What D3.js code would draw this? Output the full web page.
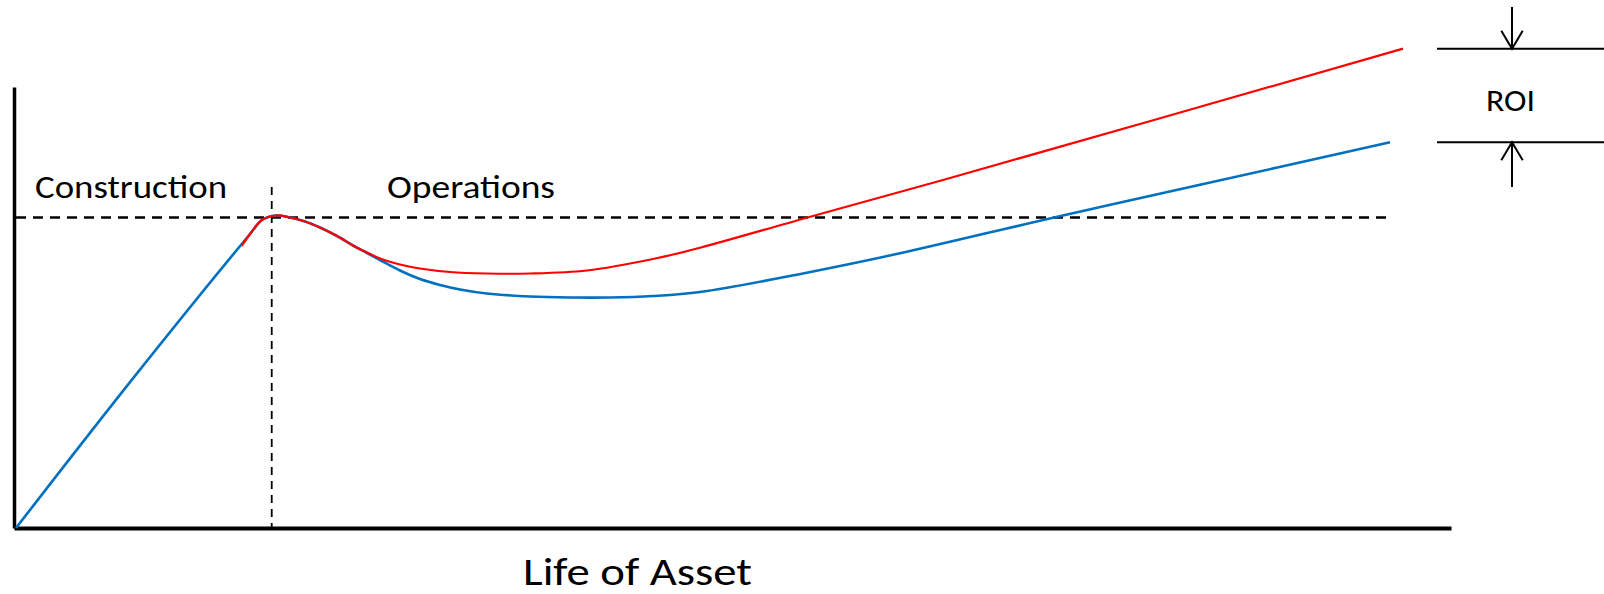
<!DOCTYPE html>
<html>
<head>
<meta charset="utf-8">
<script src="https://cdn.jsdelivr.net/npm/d3@7"></script>
<style>
    body { margin: 0; background: #fff; }
    text { font-family: Calibri, Carlito, Lato, sans-serif; fill: #000; }
</style>
</head>
<body>
<svg id="chart" width="1604" height="594"></svg>
<script>
var width = 1604;
var height = 594;

// cost curve (blue) - abstract time / value units
var costX = [0, 8, 16.31, 17.14, 18.12, 19.09, 20.14, 21.18, 22.37, 23.48, 24.46, 25.37, 26.76, 28.15, 29.55, 30.94, 32.82, 35.82, 38.61, 41.39, 44.39, 47.67, 55.1, 61.6, 72.26, 82.51, 95.75];
var costY = [0, 33.3, 66.67, 69.84, 70.86, 70.41, 69.5, 68.14, 66.21, 64.06, 62.36, 60.77, 58.39, 56.46, 55.1, 54.08, 53.17, 52.49, 52.27, 52.27, 52.61, 53.51, 57.89, 62.29, 70.36, 77.82, 87.46];

// value curve (red)
var valueX = [15.73, 16.31, 17.14, 18.12, 19.09, 20.14, 21.18, 22.37, 23.48, 24.46, 25.37, 26.76, 28.15, 30.24, 32.82, 35.82, 39.79, 44.39, 47.67, 55.1, 64.6, 96.66];
var valueY = [63.95, 66.67, 69.84, 70.86, 70.41, 69.5, 68.14, 66.21, 64.06, 62.45, 61.11, 59.75, 58.84, 58.05, 57.71, 57.71, 58.39, 61.0, 63.56, 70.36, 78.91, 108.69];

var breakEven = 70.4;
var breakEvenEnd = 95.6;
var constructionEnd = 17.82;
var dividerTop = 77.3;

var phaseLabels = ['Construction', 'Operations'];
var axisLabel = 'Life of Asset';
var roiLabel = 'ROI';

var xScale = d3.scaleLinear().domain([0, 100]).range([16, 1451]);
var yScale = d3.scaleLinear().domain([0, 100]).range([528, 87]);

var svg = d3.select('#chart');

function toPoints(xs, ys) {
    return xs.map(function(x, i) { return [x, ys[i]]; });
}

var line = d3.line()
    .x(function(d) { return xScale(d[0]); })
    .y(function(d) { return yScale(d[1]); })
    .curve(d3.curveCatmullRom.alpha(0.5));

// axes, no ticks
svg.append('g')
    .attr('transform', 'translate(' + (xScale(0) - 2) + ',0)')
    .call(d3.axisLeft(yScale).tickValues([]).tickSizeOuter(0))
    .select('.domain')
    .attr('stroke', '#000')
    .attr('stroke-width', 3.5);

svg.append('g')
    .attr('transform', 'translate(-2,' + yScale(0) + ')')
    .call(d3.axisBottom(d3.scaleLinear().domain([0, 100]).range([xScale(0), xScale(100) + 2])).tickValues([]).tickSizeOuter(0))
    .select('.domain')
    .attr('stroke', '#000')
    .attr('stroke-width', 4);

// break-even dashed line
svg.append('line')
    .attr('x1', xScale(0))
    .attr('x2', xScale(breakEvenEnd))
    .attr('y1', yScale(breakEven))
    .attr('y2', yScale(breakEven))
    .attr('stroke', '#000')
    .attr('stroke-width', 2.5)
    .attr('stroke-dasharray', '10,7');

// construction / operations divider
svg.append('line')
    .attr('x1', xScale(constructionEnd))
    .attr('x2', xScale(constructionEnd))
    .attr('y1', yScale(dividerTop))
    .attr('y2', yScale(0))
    .attr('stroke', '#000')
    .attr('stroke-width', 1.8)
    .attr('stroke-dasharray', '8,6');

svg.append('path')
    .datum(toPoints(costX, costY))
    .attr('d', line)
    .attr('fill', 'none')
    .attr('stroke', '#0070C0')
    .attr('stroke-width', 2.6);

svg.append('path')
    .datum(toPoints(valueX, valueY))
    .attr('d', line)
    .attr('fill', 'none')
    .attr('stroke', '#FF0000')
    .attr('stroke-width', 2.2);

// labels
svg.append('text')
    .attr('x', 35)
    .attr('y', 197.5)
    .attr('font-size', 33.5)
    .attr('textLength', 192)
    .attr('lengthAdjust', 'spacingAndGlyphs')
    .text(phaseLabels[0]);

svg.append('text')
    .attr('x', 387)
    .attr('y', 197.5)
    .attr('font-size', 33.5)
    .attr('textLength', 168)
    .attr('lengthAdjust', 'spacingAndGlyphs')
    .text(phaseLabels[1]);

svg.append('text')
    .attr('x', 523)
    .attr('y', 585)
    .attr('font-size', 39)
    .attr('textLength', 229)
    .attr('lengthAdjust', 'spacingAndGlyphs')
    .text(axisLabel);

// ROI annotation
var roiTop = yScale(valueY[valueY.length - 1]);
var roiBottom = yScale(costY[costY.length - 1]);
var roiX = 1512;
var roi = svg.append('g')
    .attr('stroke', '#000')
    .attr('stroke-width', 2)
    .attr('fill', 'none');

roi.append('line').attr('x1', 1437).attr('x2', width).attr('y1', roiTop).attr('y2', roiTop);
roi.append('line').attr('x1', 1437).attr('x2', width).attr('y1', roiBottom).attr('y2', roiBottom);

roi.append('line').attr('x1', roiX).attr('x2', roiX).attr('y1', 7).attr('y2', roiTop);
roi.append('path')
    .attr('d', 'M' + (roiX - 10.7) + ',' + (roiTop - 18) + 'L' + roiX + ',' + roiTop + 'L' + (roiX + 10.7) + ',' + (roiTop - 18));

roi.append('line').attr('x1', roiX).attr('x2', roiX).attr('y1', roiBottom).attr('y2', 187);
roi.append('path')
    .attr('d', 'M' + (roiX - 10.7) + ',' + (roiBottom + 18) + 'L' + roiX + ',' + roiBottom + 'L' + (roiX + 10.7) + ',' + (roiBottom + 18));

svg.append('text')
    .attr('x', 1486)
    .attr('y', 110.7)
    .attr('font-size', 31.7)
    .attr('textLength', 49)
    .attr('lengthAdjust', 'spacingAndGlyphs')
    .text(roiLabel);
</script>
</body>
</html>
